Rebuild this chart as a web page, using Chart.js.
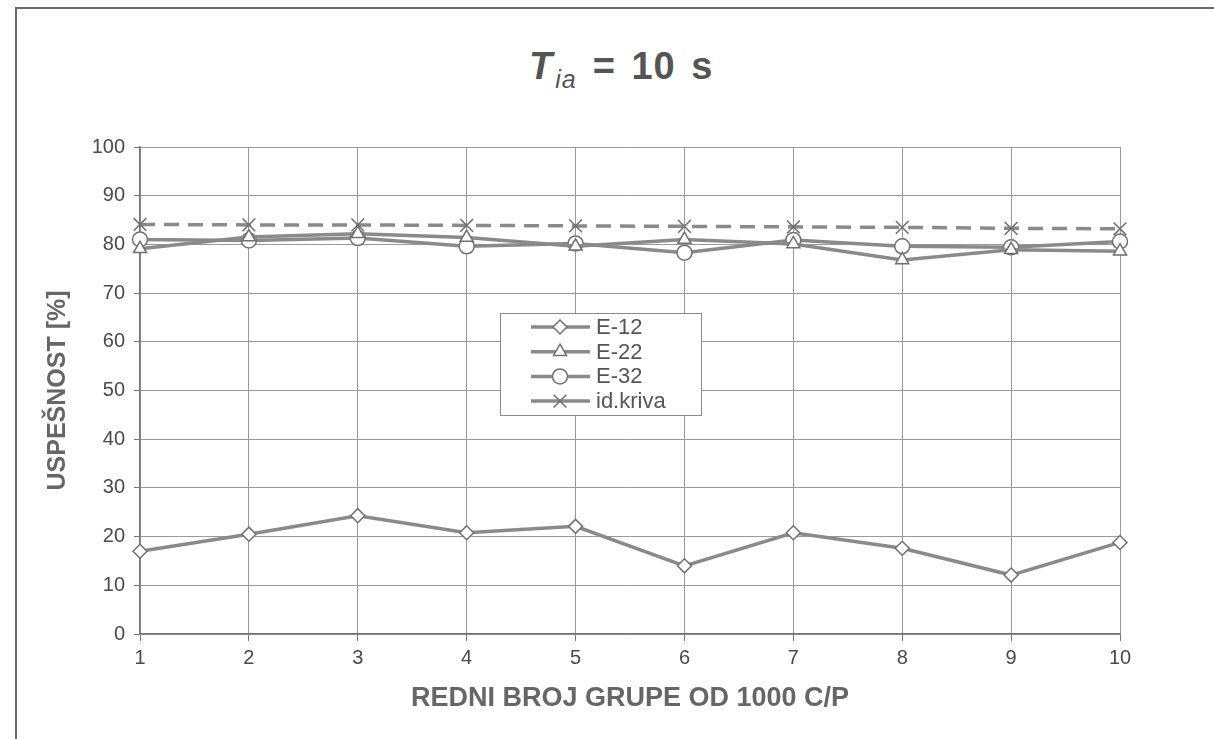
<!DOCTYPE html>
<html>
<head>
<meta charset="utf-8">
<script src="https://cdn.jsdelivr.net/npm/chart.js@4.4.1/dist/chart.umd.min.js"></script>
<style>
  html, body { margin: 0; padding: 0; background: #fff; }
  #wrap { position: relative; width: 1214px; height: 739px; overflow: hidden; }
  #frame { position: absolute; left: 15px; top: 7px; width: 1300px; height: 800px;
           border-left: 2px solid #6a6a6a; border-top: 2px solid #6a6a6a; }
  #title { position: absolute; left: 529px; top: 45px;
           font-family: "Liberation Sans", Arial, sans-serif; font-size: 38px; font-weight: bold;
           color: #555; white-space: nowrap; letter-spacing: 1px; word-spacing: 4px; }
  #title .t { font-style: italic; }
  #title sub { font-style: italic; font-weight: normal; font-size: 25px; margin-right: 16px; margin-left: 2px; }
  canvas { position: absolute; left: 0; top: 0; }
</style>
</head>
<body>
<div id="wrap">
  <div id="frame"></div>
  <div id="title"><span class="t">T</span><sub>ia</sub>= 10 s</div>
  <canvas id="chart" width="1214" height="739"></canvas>
</div>
<script>
// data
const groups = ['1', '2', '3', '4', '5', '6', '7', '8', '9', '10'];
const e12 = [17.0, 20.5, 24.3, 20.8, 22.1, 14.0, 20.8, 17.6, 12.1, 18.8];
const e22 = [79.1, 81.5, 82.2, 81.4, 79.6, 81.0, 80.1, 76.8, 78.9, 78.6];
const e32 = [81.0, 80.8, 81.3, 79.6, 80.2, 78.3, 80.9, 79.6, 79.4, 80.6];
const idKriva = [84.1, 84.0, 84.0, 83.9, 83.8, 83.7, 83.6, 83.5, 83.3, 83.2];
const yTicks = [0, 10, 20, 30, 40, 50, 60, 70, 80, 90, 100];

const lineColor = '#8a8a8a';
const markColor = '#707070';
const gridColor = '#9a9a9a';
const fontFamily = '"Liberation Sans", Arial, sans-serif';

function series(label, data, style, radius, extra) {
    return Object.assign({
        label: label,
        data: data,
        borderColor: lineColor,
        borderWidth: 3.5,
        pointStyle: style,
        pointRadius: radius,
        pointBackgroundColor: '#fff',
        pointBorderColor: markColor,
        pointBorderWidth: 1.5,
        tension: 0,
        fill: false
    }, extra || {});
}

// legend box drawn inside the plot, like the original
const boxLegend = {
    id: 'boxLegend',
    afterDraw(chart) {
        const ctx = chart.ctx;
        const x0 = 500, y0 = 313, w = 201, h = 102;
        ctx.save();
        ctx.fillStyle = '#fff';
        ctx.fillRect(x0, y0, w, h);
        ctx.strokeStyle = '#8a8a8a';
        ctx.lineWidth = 1;
        ctx.strokeRect(x0 + 0.5, y0 + 0.5, w, h);
        chart.data.datasets.forEach((ds, i) => {
            const y = y0 + 14 + i * 24.7;
            ctx.strokeStyle = ds.borderColor;
            ctx.lineWidth = 3.5;
            ctx.setLineDash([]);
            ctx.beginPath();
            ctx.moveTo(531, y);
            ctx.lineTo(590, y);
            ctx.stroke();
            ctx.fillStyle = '#fff';
            ctx.strokeStyle = markColor;
            ctx.lineWidth = ds.pointBorderWidth;
            Chart.helpers.drawPoint(ctx, {
                pointStyle: ds.pointStyle,
                radius: ds.pointRadius,
                borderWidth: ds.pointBorderWidth
            }, 560, y);
            ctx.fillStyle = '#555';
            ctx.font = '22px ' + fontFamily;
            ctx.textBaseline = 'middle';
            ctx.fillText(ds.label, 596, y + 1);
        });
        ctx.restore();
    }
};

new Chart(document.getElementById('chart'), {
    type: 'line',
    data: {
        labels: groups,
        datasets: [
            series('E-12', e12, 'rectRot', 7),
            series('E-22', e22, 'triangle', 7.5),
            series('E-32', e32, 'circle', 7.5),
            series('id.kriva', idKriva, 'crossRot', 9, { borderDash: [15, 9], pointBorderWidth: 1.6 })
        ]
    },
    options: {
        responsive: false,
        animation: false,
        layout: { padding: { top: 147, right: 94, left: 16, bottom: 0 } },
        plugins: {
            legend: { display: false },
            tooltip: { enabled: false }
        },
        scales: {
            x: {
                offset: false,
                afterFit: function (scale) { scale.height = 105; },
                grid: { color: gridColor, lineWidth: 1, tickLength: 7, tickColor: '#777' },
                border: { color: '#777', width: 1.5 },
                ticks: { color: '#4a4a4a', font: { family: fontFamily, size: 20 }, padding: 5, maxRotation: 0 },
                title: {
                    display: true,
                    text: 'REDNI BROJ GRUPE OD 1000 C/P',
                    color: '#666',
                    font: { family: fontFamily, size: 27, weight: 'bold' },
                    padding: { top: 0, bottom: 24 }
                }
            },
            y: {
                min: 0,
                max: 100,
                afterFit: function (scale) { scale.width = 124; },
                afterBuildTicks: function (scale) {
                    scale.ticks = yTicks.map(v => ({ value: v }));
                },
                grid: { color: gridColor, lineWidth: 1, tickLength: 6, tickColor: '#777' },
                border: { color: '#777', width: 1.5 },
                ticks: { color: '#4a4a4a', font: { family: fontFamily, size: 20 }, padding: 9 },
                title: {
                    display: true,
                    text: 'USPEŠNOST [%]',
                    color: '#666',
                    font: { family: fontFamily, size: 25, weight: 'bold' },
                    padding: { top: 27, bottom: 0 }
                }
            }
        }
    },
    plugins: [boxLegend]
});
</script>
</body>
</html>
